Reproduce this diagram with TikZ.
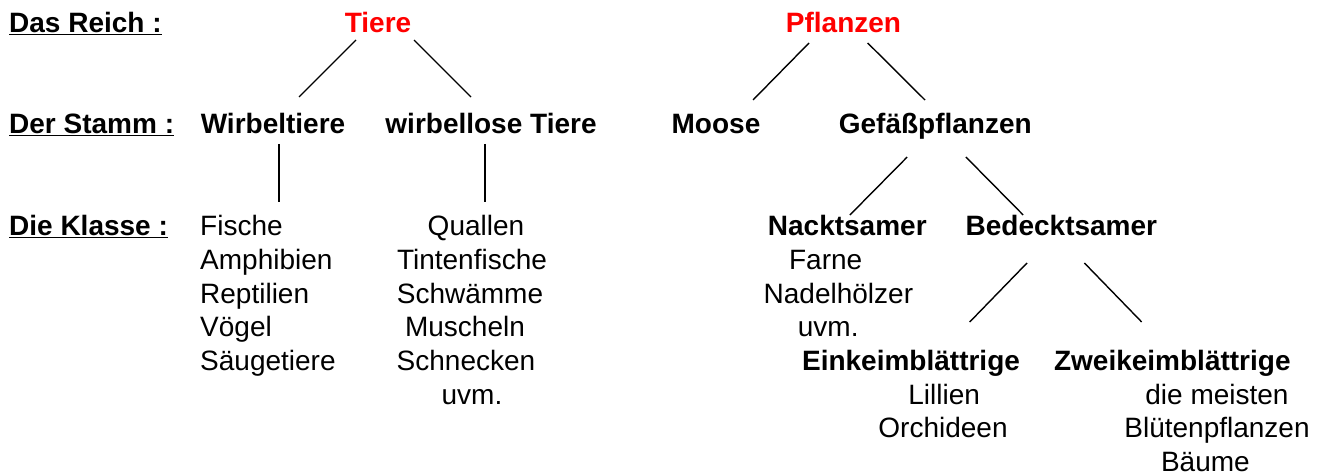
\documentclass[tikz,border=0pt]{standalone}
\usepackage{fontspec}
\setmainfont{Liberation Sans}
\definecolor{tred}{RGB}{255,0,0}
\tikzset{
  base/.style={inner sep=0pt, font=\fontsize{28}{33}\selectfont},
  lab/.style={base, anchor=base west, font=\fontsize{28}{33}\selectfont\bfseries},
  head/.style={base, anchor=base, text=tred, font=\fontsize{28}{33}\selectfont\bfseries},
  stem/.style={base, anchor=base, font=\fontsize{28}{33}\selectfont\bfseries},
  item/.style={base, anchor=base},
  itemw/.style={base, anchor=base west},
  conn/.style={line width=1.4pt, black}
}
\begin{document}
\begin{tikzpicture}[x=1pt,y=-1pt]
\useasboundingbox[fill=white] (0,0) rectangle (1326,476);
% level labels
\node[lab] (l1) at (9,33) {\underline{Das Reich :}};
\node[lab] (l2) at (9,134) {\underline{Der Stamm :}};
\node[lab] (l3) at (9,236) {\underline{Die Klasse :}};
% kingdoms
\node[head] (tiere) at (378,33) {Tiere};
\node[head] (pfl) at (843.5,33) {Pflanzen};
% phyla
\node[stem] (wirb) at (273,134) {Wirbeltiere};
\node[stem] (wlos) at (491,134) {wirbellose Tiere};
\node[stem] (moose) at (716,134) {Moose};
\node[stem] (gef) at (935.3,134) {Gefäßpflanzen};
% classes animals
\node[itemw] (fische) at (200,236) {Fische};
\node[itemw] (amph) at (200,269.6) {Amphibien};
\node[itemw] (rept) at (200,303.2) {Reptilien};
\node[itemw] (voegel) at (200,336.8) {Vögel};
\node[itemw] (saeug) at (200,370.4) {Säugetiere};
\node[item] (quallen) at (476,236) {Quallen};
\node[item] (tinten) at (472,269.6) {Tintenfische};
\node[item] (schw) at (470,303.2) {Schwämme};
\node[item] (musch) at (465,336.8) {Muscheln};
\node[item] (schn) at (466,370.4) {Schnecken};
\node[item] (uvma) at (472,404) {uvm.};
% plants
\node[stem] (nackt) at (847.3,236) {Nacktsamer};
\node[stem] (bedeckt) at (1061.4,236) {Bedecktsamer};
\node[item] (farne) at (825.7,269.6) {Farne};
\node[item] (nadel) at (838.4,303.2) {Nadelhölzer};
\node[item] (uvmb) at (828.2,336.8) {uvm.};
\node[stem] (einkeim) at (911,370.4) {Einkeimblättrige};
\node[stem] (zweikeim) at (1172.3,370.4) {Zweikeimblättrige};
\node[item] (lillien) at (944.2,404) {Lillien};
\node[item] (orch) at (943,437.6) {Orchideen};
\node[item] (meisten) at (1217,404) {die meisten};
\node[item] (blueten) at (1217,437.6) {Blütenpflanzen};
\node[item] (baeume) at (1205.4,471.2) {Bäume};
% connectors
\draw[conn] ([shift={(-22,7)}]tiere.base) -- ([shift={(26,-37)}]wirb.base);
\draw[conn] ([shift={(36,7)}]tiere.base) -- ([shift={(-20,-37)}]wlos.base);
\draw[conn] ([shift={(6,10)}]wirb.base) -- ([shift={(79,-34)}]fische.base west);
\draw[conn] ([shift={(-6,10)}]wlos.base) -- ([shift={(9,-34)}]quallen.base);
\draw[conn] ([shift={(-34.5,10)}]pfl.base) -- ([shift={(37,-34)}]moose.base);
\draw[conn] ([shift={(24.2,10)}]pfl.base) -- ([shift={(-10.3,-34)}]gef.base);
\draw[conn] ([shift={(-28.1,23)}]gef.base) -- ([shift={(2.6,-21)}]nackt.base);
\draw[conn] ([shift={(30.6,23)}]gef.base) -- ([shift={(-38.2,-21)}]bedeckt.base);
\draw[conn] ([shift={(-34.4,27)}]bedeckt.base) -- ([shift={(58.7,-48.4)}]einkeim.base);
\draw[conn] ([shift={(23,27)}]bedeckt.base) -- ([shift={(-30.6,-48.4)}]zweikeim.base);
\end{tikzpicture}
\end{document}
